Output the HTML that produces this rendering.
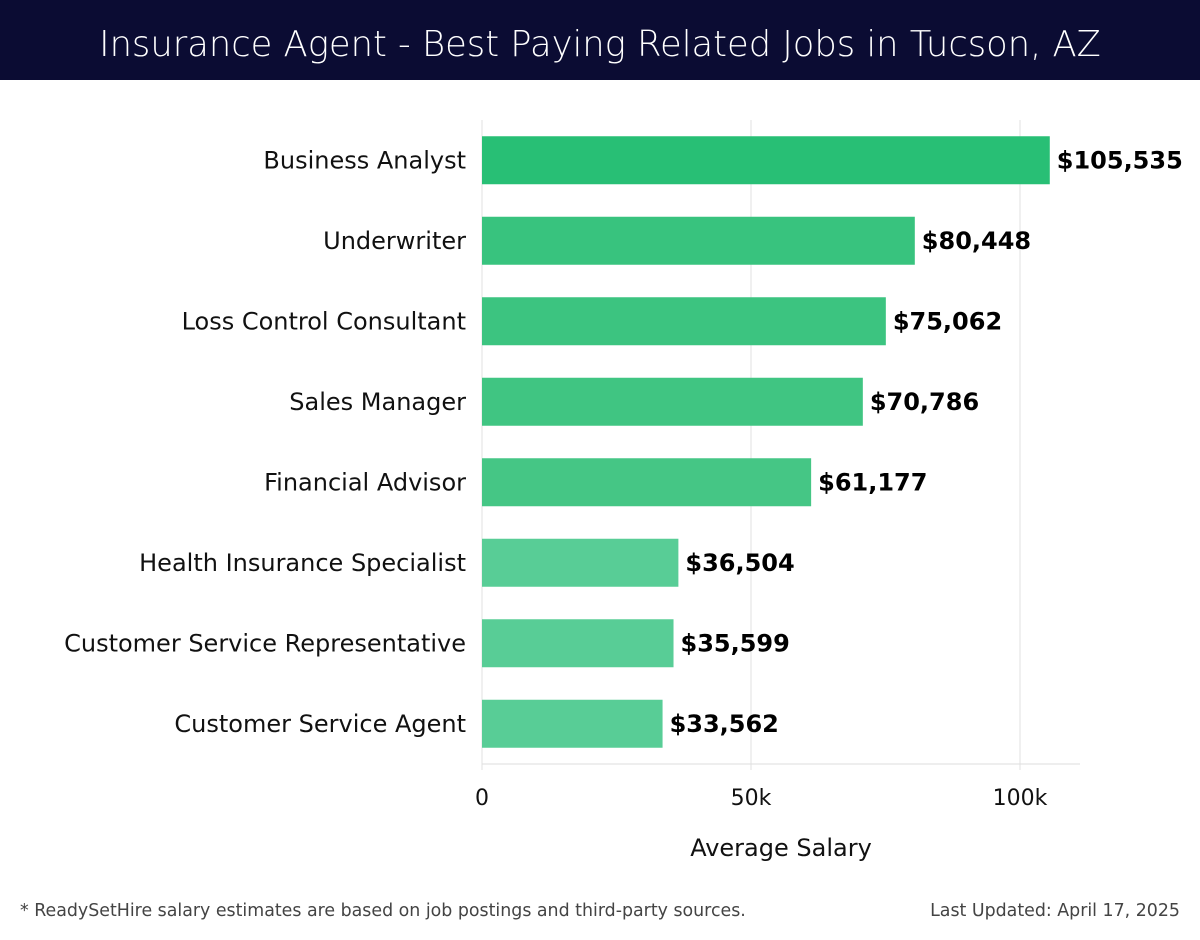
<!DOCTYPE html>
<html><head><meta charset="utf-8"><style>
body{margin:0;width:1200px;height:940px;background:#fff;font-family:"DejaVu Sans","Liberation Sans",sans-serif;overflow:hidden}
#hdr{position:absolute;left:0;top:0;width:1200px;height:80px;background:#0b0c33;color:#fff;font-size:35.3px;text-align:center;line-height:90px;font-weight:300;font-family:"DejaVu Sans","Liberation Sans",sans-serif;white-space:nowrap}
.foot{position:absolute;top:901px;font-size:17.4px;color:#444}
</style></head><body>
<div id="hdr">Insurance Agent - Best Paying Related Jobs in Tucson, AZ</div>
<svg id="chart" width="1200" height="940" style="position:absolute;left:0;top:0"></svg>
<div class="foot" style="left:20px">* ReadySetHire salary estimates are based on job postings and third-party sources.</div>
<div class="foot" style="right:20px">Last Updated: April 17, 2025</div>
<script>
const categories=["Business Analyst","Underwriter","Loss Control Consultant","Sales Manager","Financial Advisor","Health Insurance Specialist","Customer Service Representative","Customer Service Agent"];
const values=[105535,80448,75062,70786,61177,36504,35599,33562];
const valueLabels=["$105,535","$80,448","$75,062","$70,786","$61,177","$36,504","$35,599","$33,562"];
const ticks=[0,50000,100000];
const tickLabels=["0","50k","100k"];
const colors=["#28bf75","#38c37e","#3cc480","#40c582","#45c685","#58cd96","#58cd96","#58cd96"];
const svg=document.getElementById('chart');const NS="http://www.w3.org/2000/svg";
const x0=482,pxPer=269/50000,plotTop=120,plotBottom=764,band=(plotBottom-plotTop)/categories.length;
const X=v=>x0+v*pxPer;
function mk(t,a,txt){const e=document.createElementNS(NS,t);for(const k in a)e.setAttribute(k,a[k]);if(txt!==undefined)e.textContent=txt;svg.appendChild(e);return e;}
ticks.forEach((t,i)=>{
 const g=mk('line',{x1:X(t),x2:X(t),y1:plotTop,y2:plotBottom+6,stroke:'#e2e2e2','stroke-width':1});
 
 
 const l=mk('text',{x:X(t),y:805,'text-anchor':'middle','font-size':22,fill:'#111'},tickLabels[i]);
 
 
});
const ax=mk('line',{x1:x0,x2:1080,y1:plotBottom,y2:plotBottom,stroke:'#ddd','stroke-width':1});


const at=mk('text',{x:781,y:856,'text-anchor':'middle','font-size':24,fill:'#111'},'Average Salary');


categories.forEach((c,i)=>{
 const cy=plotTop+band*(i+0.5),h=48;
 const r=mk('rect',{x:x0,y:cy-h/2,width:X(values[i])-x0,height:h,fill:colors[i]});
 
 
 const l=mk('text',{x:466,y:cy+8,'text-anchor':'end','font-size':24,fill:'#111'},c);
 
 
 const v=mk('text',{x:X(values[i])+7,y:cy+8,'font-size':24,'font-weight':'bold',fill:'#000'},valueLabels[i]);
 
 
});
</script>
</body></html>
